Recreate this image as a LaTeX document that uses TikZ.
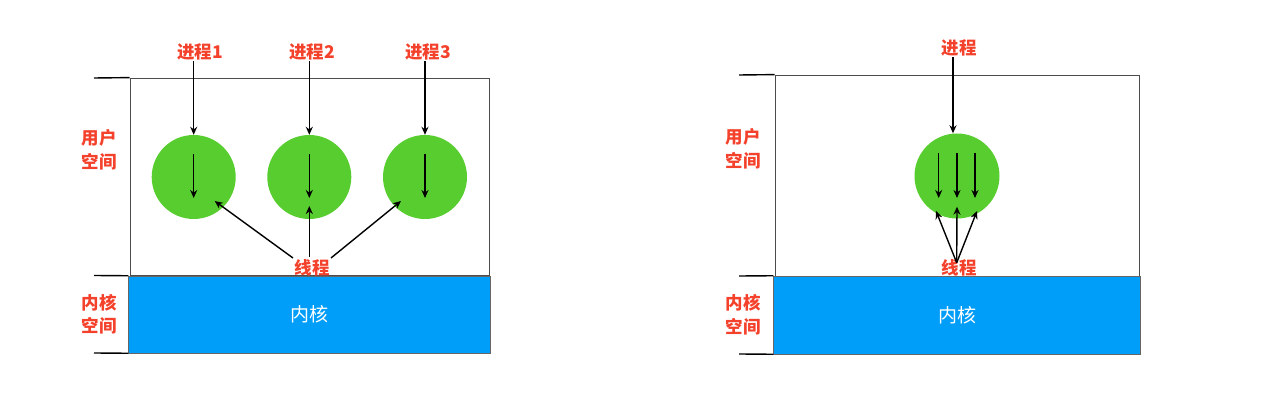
\documentclass[tikz,border=0pt]{standalone}
\usepackage{fontspec}
\newfontfamily\cjk{Noto Sans CJK SC}
\usetikzlibrary{arrows.meta}
\definecolor{lblred}{HTML}{F4412B}
\definecolor{procgreen}{HTML}{58CD2F}
\definecolor{kernblue}{HTML}{009DF9}
\tikzset{
  userbox/.style={draw=black!70, line width=0.8pt, fill=white, inner sep=0pt},
  kernbox/.style={draw=black!60, line width=0.5pt, fill=kernblue, inner sep=0pt, text=white, font=\cjk\fontsize{19}{22}\selectfont},
  proc/.style={circle, fill=procgreen, inner sep=0pt, minimum size=84pt},
  lbl/.style={text=lblred, font=\cjk\bfseries\fontsize{17.5}{20}\selectfont, inner sep=1pt},
  sidelbl/.style={text=lblred, font=\cjk\bfseries\fontsize{17.5}{23.5}\selectfont, align=center, inner sep=0pt},
  arr/.style={-{Stealth[length=8pt,width=7pt]}, line width=1.4pt, black},
  tick/.style={line width=1.4pt, black}
}
\begin{document}
\begin{tikzpicture}[x=1pt,y=-1pt]
\useasboundingbox (0,0) rectangle (1278,414);
% ---------------- left diagram ----------------
\node[userbox, minimum width=359pt, minimum height=197pt] (uL) at (309.5,176.5) {};
\node[kernbox, minimum width=362pt, minimum height=77pt] (kL) at (309.5,314.5) {内核};
\draw[tick] (94,78) -- (uL.north west);
\draw[tick] (94,275.5) -- (kL.north west);
\draw[tick] (94,353) -- (kL.south west);
\node[sidelbl] (usL) at (99,150) {用户\\空间};
\node[sidelbl] (ksL) at (99,314) {内核\\空间};
\node[proc] (c1) at (193.7,177) {};
\node[proc] (c2) at (309.3,177) {};
\node[proc] (c3) at (425,177) {};
\node[lbl] (p1) at (200,51.7) {进程1};
\node[lbl] (p2) at (312,51.7) {进程2};
\node[lbl] (p3) at (428,51.7) {进程3};
\foreach \i in {1,2,3}{
  \draw[arr] (p\i.south -| c\i.center) -- (c\i.north);
  \draw[arr] ([yshift=23pt]c\i.center) -- ([yshift=-21pt]c\i.center);
}
\node[lbl] (t1) at (312,268) {线程};
\draw[arr] ([shift={(-19pt,10pt)}]t1.center) -- ([shift={(21pt,-24pt)}]c1.center);
\draw[arr] ([shift={(-2.7pt,11pt)}]t1.center) -- ([shift={(0pt,-29pt)}]c2.center);
\draw[arr] ([shift={(19pt,10pt)}]t1.center) -- ([shift={(-24pt,-24pt)}]c3.center);
% ---------------- right diagram ----------------
\node[userbox, minimum width=364pt, minimum height=201pt] (uR) at (957,175.5) {};
\node[kernbox, minimum width=367pt, minimum height=78pt] (kR) at (957,315) {内核};
\draw[tick] (739,75) -- (uR.north west);
\draw[tick] (739,276) -- (kR.north west);
\draw[tick] (739,354) -- (kR.south west);
\node[sidelbl] (usR) at (743,149) {用户\\空间};
\node[sidelbl] (ksR) at (743,314.5) {内核\\空间};
\node[proc, minimum size=85pt] (c4) at (957,176) {};
\node[lbl] (p4) at (959,48) {进程};
\draw[arr] (p4.south -| 953,0) -- (c4.north -| 953,0);
\foreach \dx in {-18.3,0,18}{
  \draw[arr] ([shift={(\dx pt,23pt)}]c4.center) -- ([shift={(\dx pt,-22pt)}]c4.center);
}
\node[lbl] (t2) at (959,268) {线程};
\coordinate (t2s) at ([shift={(-2.3pt,5.3pt)}]t2.center);
\draw[arr] (t2s) -- ([shift={(-21pt,-35pt)}]c4.center);
\draw[arr] (t2s) -- ([shift={(0pt,-30.7pt)}]c4.center);
\draw[arr] (t2s) -- ([shift={(20pt,-35pt)}]c4.center);
\end{tikzpicture}
\end{document}
